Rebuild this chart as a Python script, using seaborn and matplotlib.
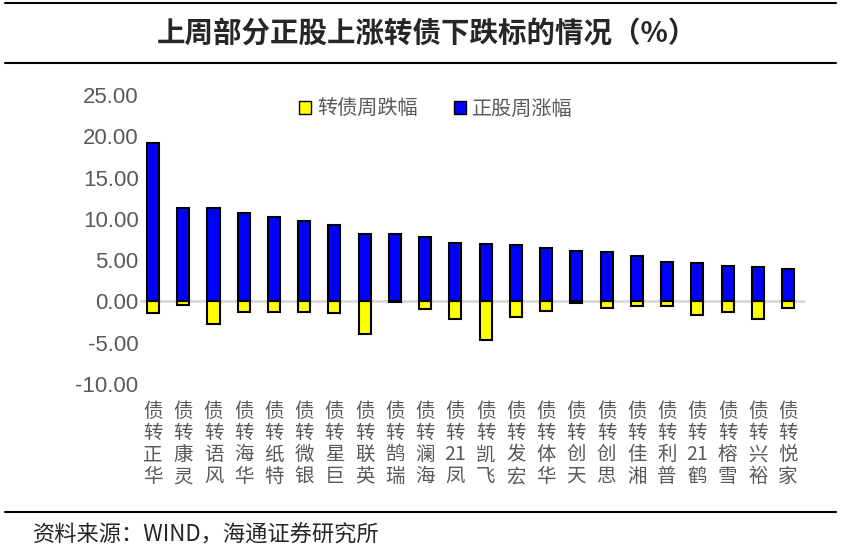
import re
import numpy as np
import pandas as pd
import matplotlib
matplotlib.use("Agg")
import matplotlib.pyplot as plt
import seaborn as sns
from matplotlib.lines import Line2D
from matplotlib.patches import Patch

# -------------------------------
# DATA
# -------------------------------
bonds = ["华正转债", "灵康转债", "风语转债", "华海转债", "特纸转债", "银微转债",
         "巨星转债", "英联转债", "瑞鹄转债", "海澜转债", "凤21转债", "飞凯转债",
         "宏发转债", "华体转债", "天创转债", "思创转债", "湘佳转债", "普利转债",
         "鹤21转债", "雪榕转债", "裕兴转债", "家悦转债"]
stock_up = [19.19, 11.37, 11.33, 10.76, 10.28, 9.75, 9.27, 8.18, 8.18, 7.86, 7.05,
            6.97, 6.89, 6.45, 6.13, 6.00, 5.56, 4.80, 4.68, 4.27, 4.20, 3.95]
bond_down = [-1.41, -0.45, -2.78, -1.25, -1.29, -1.25, -1.41, -3.99, -0.05, -0.97, -2.10,
             -4.67, -1.85, -1.17, -0.24, -0.85, -0.57, -0.52, -1.69, -1.25, -2.10, -0.77]
yticks = [-10, -5, 0, 5, 10, 15, 20, 25]

df = pd.DataFrame({"bond": bonds, "stock": stock_up, "cb": bond_down})


def vertical_label(name):
    # reads bottom to top, digits kept together
    parts = re.findall(r"\d+|.", name)
    return "\n".join(reversed(parts))


# -------------------------------
# PLOT
# -------------------------------
sns.set_style("white")
plt.rcParams['font.family'] = ['Liberation Sans', 'Noto Sans CJK SC', 'DejaVu Sans']

fig = plt.figure(figsize=(8.41, 5.56), dpi=100)
ax = fig.add_axes([140 / 841, 1 - 384 / 556, 665 / 841, 289 / 556])

sns.barplot(data=df, x="bond", y="cb", color="#FFFF00", edgecolor="black",
            linewidth=1.5, width=0.4, saturation=1, ax=ax)
sns.barplot(data=df, x="bond", y="stock", color="#0000FF", edgecolor="black",
            linewidth=1.5, width=0.4, saturation=1, ax=ax)

ax.axhline(0, color="#d9d9d9", linewidth=2, zorder=0.5)
ax.set_ylim(-10, 25)
ax.set_xlim(-0.43, len(bonds) - 0.44)
ax.set_yticks(yticks)
ax.set_yticklabels([f"{v:.2f}" for v in yticks], fontsize=16, color="#595959")
ax.set_xticks(range(len(bonds)))
ax.set_xticklabels([vertical_label(b) for b in bonds], fontsize=14, color="#595959",
                   family=['Noto Sans CJK SC'], linespacing=1.05, va="top")
ax.tick_params(axis="y", length=0, pad=1)
ax.tick_params(axis="x", length=0, pad=12)
ax.set_xlabel("")
ax.set_ylabel("")
for s in ax.spines.values():
    s.set_visible(False)

handles = [Patch(facecolor="#FFFF00", edgecolor="black", label="转债周跌幅"),
           Patch(facecolor="#0000FF", edgecolor="black", label="正股周涨幅")]
ax.legend(handles=handles, loc="upper center", bbox_to_anchor=(0.445, 1.05), ncol=2,
          frameon=False, prop={"family": "Noto Sans CJK SC", "size": 14.5},
          handlelength=0.6, handleheight=0.6, columnspacing=1.8, handletextpad=0.3,
          labelcolor="#595959")

# title + frame lines
fig.text(0.508, 1 - 34 / 556, "上周部分正股上涨转债下跌标的情况（%）", ha="center", va="center",
         fontsize=20.5, fontweight="bold", family=['Noto Sans CJK SC'])
fig.text(33 / 841, 1 - 535 / 556, "资料来源：WIND，海通证券研究所", ha="left", va="center",
         fontsize=16, family=['Noto Sans CJK SC', 'Liberation Sans'])
for yy in [3, 63, 512]:
    fig.add_artist(Line2D([5 / 841, 836 / 841], [1 - yy / 556, 1 - yy / 556],
                          color="black", linewidth=1.5))

plt.savefig("out.png", dpi=100)
plt.close()
